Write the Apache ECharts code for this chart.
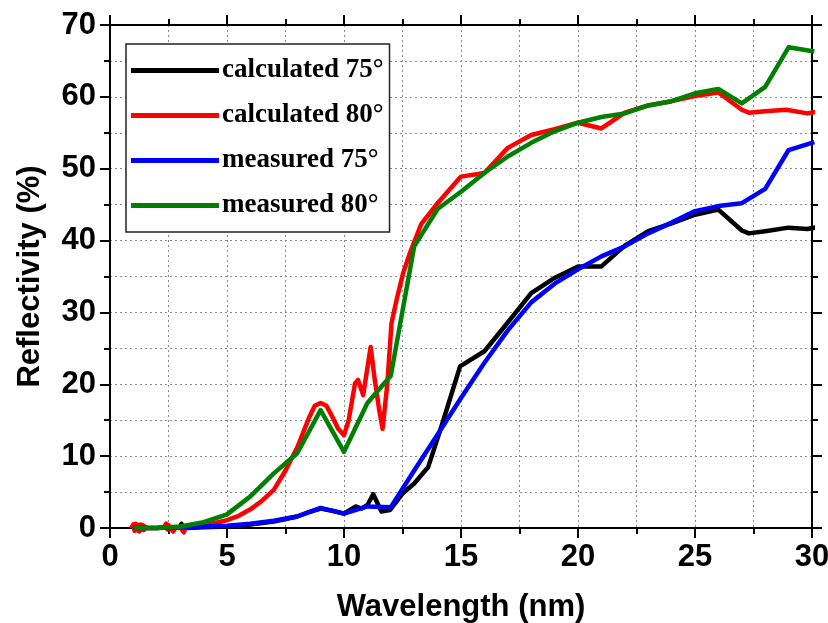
<!DOCTYPE html>
<html>
<head>
<meta charset="utf-8">
<script src="https://cdn.jsdelivr.net/npm/echarts@6/dist/echarts.min.js"></script>
<style>
html,body{margin:0;padding:0;background:#fff;}
#chart{width:828px;height:623px;}
</style>
</head>
<body>
<div id="chart"></div>
<script>
// ---- data ----
const seriesNames = ['calculated 75°', 'calculated 80°', 'measured 75°', 'measured 80°'];
const seriesColors = ['#000000', '#ff0000', '#0000ff', '#008000'];

const calc75X = [2.9, 3.0, 3.05, 3.1, 3.3, 4, 5, 6, 7, 8, 8.5, 9, 9.5, 10, 10.5, 10.75, 11, 11.25, 11.6, 11.96, 12.5, 13, 13.6, 14.2, 14.96, 16, 17, 18, 19, 20, 21, 22, 23, 24, 25, 26, 27, 27.3, 28, 29, 29.8, 30.3];
const calc75Y = [0.0, 0.1, 0.6, 0.1, 0.0, 0.1, 0.2, 0.5, 0.9, 1.6, 2.2, 2.7, 2.4, 2.0, 3.0, 2.7, 3.2, 4.7, 2.3, 2.5, 4.8, 6.2, 8.5, 14.5, 22.5, 24.6, 28.6, 32.7, 34.8, 36.4, 36.4, 39.3, 41.3, 42.4, 43.6, 44.3, 41.4, 41.0, 41.3, 41.8, 41.6, 41.9];

const calc80X = [0.9, 1.0, 1.05, 1.1, 1.15, 1.2, 1.25, 1.3, 1.35, 1.4, 1.45, 1.5, 1.6, 2.0, 2.3, 2.4, 2.45, 2.5, 2.6, 2.7, 2.8, 3.0, 3.15, 3.25, 3.5, 4, 4.5, 5, 5.5, 6, 6.5, 7, 7.5, 8, 8.5, 8.75, 9, 9.25, 9.5, 9.75, 10, 10.2, 10.47, 10.6, 10.82, 11.14, 11.3, 11.5, 11.65, 11.85, 12.03, 12.25, 12.53, 12.82, 13.3, 13.9, 14.4, 15, 16, 17, 18, 19, 20, 21, 22, 23, 24, 25, 26, 27, 27.3, 28, 28.9, 29.8, 30.3];
const calc80Y = [0.0, 0.5, -0.4, 0.6, -0.3, 0.4, -0.5, 0.5, -0.2, 0.4, -0.3, 0.2, 0.0, 0.0, 0.1, 0.6, -0.2, 0.4, 0.0, -0.5, 0.0, 0.1, -0.6, 0.2, 0.2, 0.4, 0.7, 1.1, 1.7, 2.6, 3.8, 5.3, 8.0, 11.2, 15.3, 17.0, 17.4, 17.0, 15.5, 13.8, 12.9, 15.0, 20.1, 20.6, 18.5, 25.2, 21.0, 16.5, 13.8, 20.0, 28.5, 31.8, 35.5, 38.3, 42.3, 44.8, 46.7, 48.9, 49.4, 52.9, 54.7, 55.5, 56.4, 55.6, 57.8, 58.8, 59.4, 60.1, 60.6, 58.2, 57.8, 58.0, 58.2, 57.7, 58.0];

const meas75X = [1, 2, 3, 4, 5, 6, 7, 8, 9, 10, 11, 12, 13, 14, 15, 16, 17, 18, 19, 20, 21, 22, 23, 24, 25, 26, 27, 28, 29, 30.1];
const meas75Y = [0.0, 0.0, 0.1, 0.2, 0.3, 0.6, 1.0, 1.6, 2.8, 2.0, 3.0, 2.9, 8.0, 13.0, 18.1, 23.0, 27.5, 31.4, 34.0, 36.0, 37.8, 39.2, 41.0, 42.5, 44.1, 44.8, 45.2, 47.2, 52.6, 53.7];

const meas80X = [1, 2, 3, 4, 5, 6, 7, 8, 9, 10, 11, 12, 13, 14, 15, 16, 17, 18, 19, 20, 21, 22, 23, 24, 25, 26, 27, 28, 29, 30.1];
const meas80Y = [0.0, 0.0, 0.2, 0.8, 1.9, 4.4, 7.6, 10.4, 16.4, 10.6, 17.4, 21.2, 39.2, 44.4, 46.8, 49.4, 51.7, 53.6, 55.2, 56.4, 57.2, 57.7, 58.8, 59.4, 60.5, 61.1, 59.1, 61.4, 66.9, 66.3];

const xTicks = [0, 5, 10, 15, 20, 25, 30];
const yTicks = [0, 10, 20, 30, 40, 50, 60, 70];

// ---- chart ----
function zip(xs, ys) { return xs.map((x, i) => [x, ys[i]]); }
const seriesData = [zip(calc75X, calc75Y), zip(calc80X, calc80Y), zip(meas75X, meas75Y), zip(meas80X, meas80Y)];

const sansFont = '"Liberation Sans Narrow", "Liberation Sans", Arial, sans-serif';
const gridStyle = { show: true, lineStyle: { color: '#8a8a8a', type: [2, 3], width: 1 } };

const chart = echarts.init(document.getElementById('chart'), null, { renderer: 'canvas' });
chart.setOption({
  backgroundColor: '#ffffff',
  animation: false,
  grid: { left: 110, right: 16, top: 25, bottom: 95, containLabel: false, outerBoundsMode: 'none' },
  legend: {
    left: 126, top: 44,
    orient: 'vertical',
    data: seriesNames,
    icon: 'rect',
    itemWidth: 88, itemHeight: 5,
    itemGap: 18,
    padding: [13, 6, 13, 5],
    backgroundColor: '#ffffff',
    borderColor: '#222',
    borderWidth: 1.5,
    borderRadius: 0,
    textStyle: { fontFamily: '"Liberation Serif", "Times New Roman", serif', fontWeight: 'bold', fontSize: 27, color: '#000', lineHeight: 27, padding: [0, 0, 0, -2] }
  },
  xAxis: [{
    type: 'value', min: 0, max: 30, interval: 5, position: 'bottom',
    name: 'Wavelength (nm)', nameLocation: 'middle', nameGap: 64,
    nameTextStyle: { fontFamily: sansFont, fontWeight: 'bold', fontSize: 31, color: '#000' },
    axisLine: { show: true, onZero: false, lineStyle: { color: '#000', width: 2 } },
    axisTick: { show: true, inside: false, length: 10, lineStyle: { color: '#000', width: 2 } },
    minorTick: { show: true, splitNumber: 2, length: 6, lineStyle: { color: '#000', width: 2 } },
    axisLabel: { show: true, margin: 14, fontFamily: sansFont, fontWeight: 'bold', fontSize: 31, color: '#000',
      formatter: v => xTicks.includes(v) ? String(v) : '' },
    splitLine: gridStyle,
    minorSplitLine: gridStyle
  }, {
    type: 'value', min: 0, max: 30, interval: 5, position: 'top',
    axisLine: { show: true, onZero: false, lineStyle: { color: '#000', width: 2 } },
    axisTick: { show: true, inside: false, length: 10, lineStyle: { color: '#000', width: 2 } },
    minorTick: { show: true, splitNumber: 2, length: 6, lineStyle: { color: '#000', width: 2 } },
    axisLabel: { show: false },
    splitLine: { show: false }
  }],
  yAxis: [{
    type: 'value', min: 0, max: 70, interval: 10, position: 'left',
    name: 'Reflectivity (%)', nameLocation: 'middle', nameGap: 64, nameRotate: 90,
    nameTextStyle: { fontFamily: sansFont, fontWeight: 'bold', fontSize: 31, color: '#000' },
    axisLine: { show: true, onZero: false, lineStyle: { color: '#000', width: 2 } },
    axisTick: { show: true, inside: false, length: 10, lineStyle: { color: '#000', width: 2 } },
    minorTick: { show: true, splitNumber: 2, length: 6, lineStyle: { color: '#000', width: 2 } },
    axisLabel: { show: true, margin: 14, fontFamily: sansFont, fontWeight: 'bold', fontSize: 31, color: '#000',
      formatter: v => yTicks.includes(v) ? String(v) : '' },
    splitLine: gridStyle,
    minorSplitLine: gridStyle
  }, {
    type: 'value', min: 0, max: 70, interval: 10, position: 'right',
    axisLine: { show: true, onZero: false, lineStyle: { color: '#000', width: 2 } },
    axisTick: { show: true, inside: false, length: 10, lineStyle: { color: '#000', width: 2 } },
    minorTick: { show: true, splitNumber: 2, length: 6, lineStyle: { color: '#000', width: 2 } },
    axisLabel: { show: false },
    splitLine: { show: false }
  }],
  series: seriesNames.map((name, i) => ({
    name: name,
    type: 'line',
    xAxisIndex: 0, yAxisIndex: 0,
    data: seriesData[i],
    showSymbol: false,
    symbol: 'none',
    clip: false,
    color: seriesColors[i],
    lineStyle: { color: seriesColors[i], width: 4.5, join: 'round' },
    z: 2 + i
  }))
});
</script>
</body>
</html>
